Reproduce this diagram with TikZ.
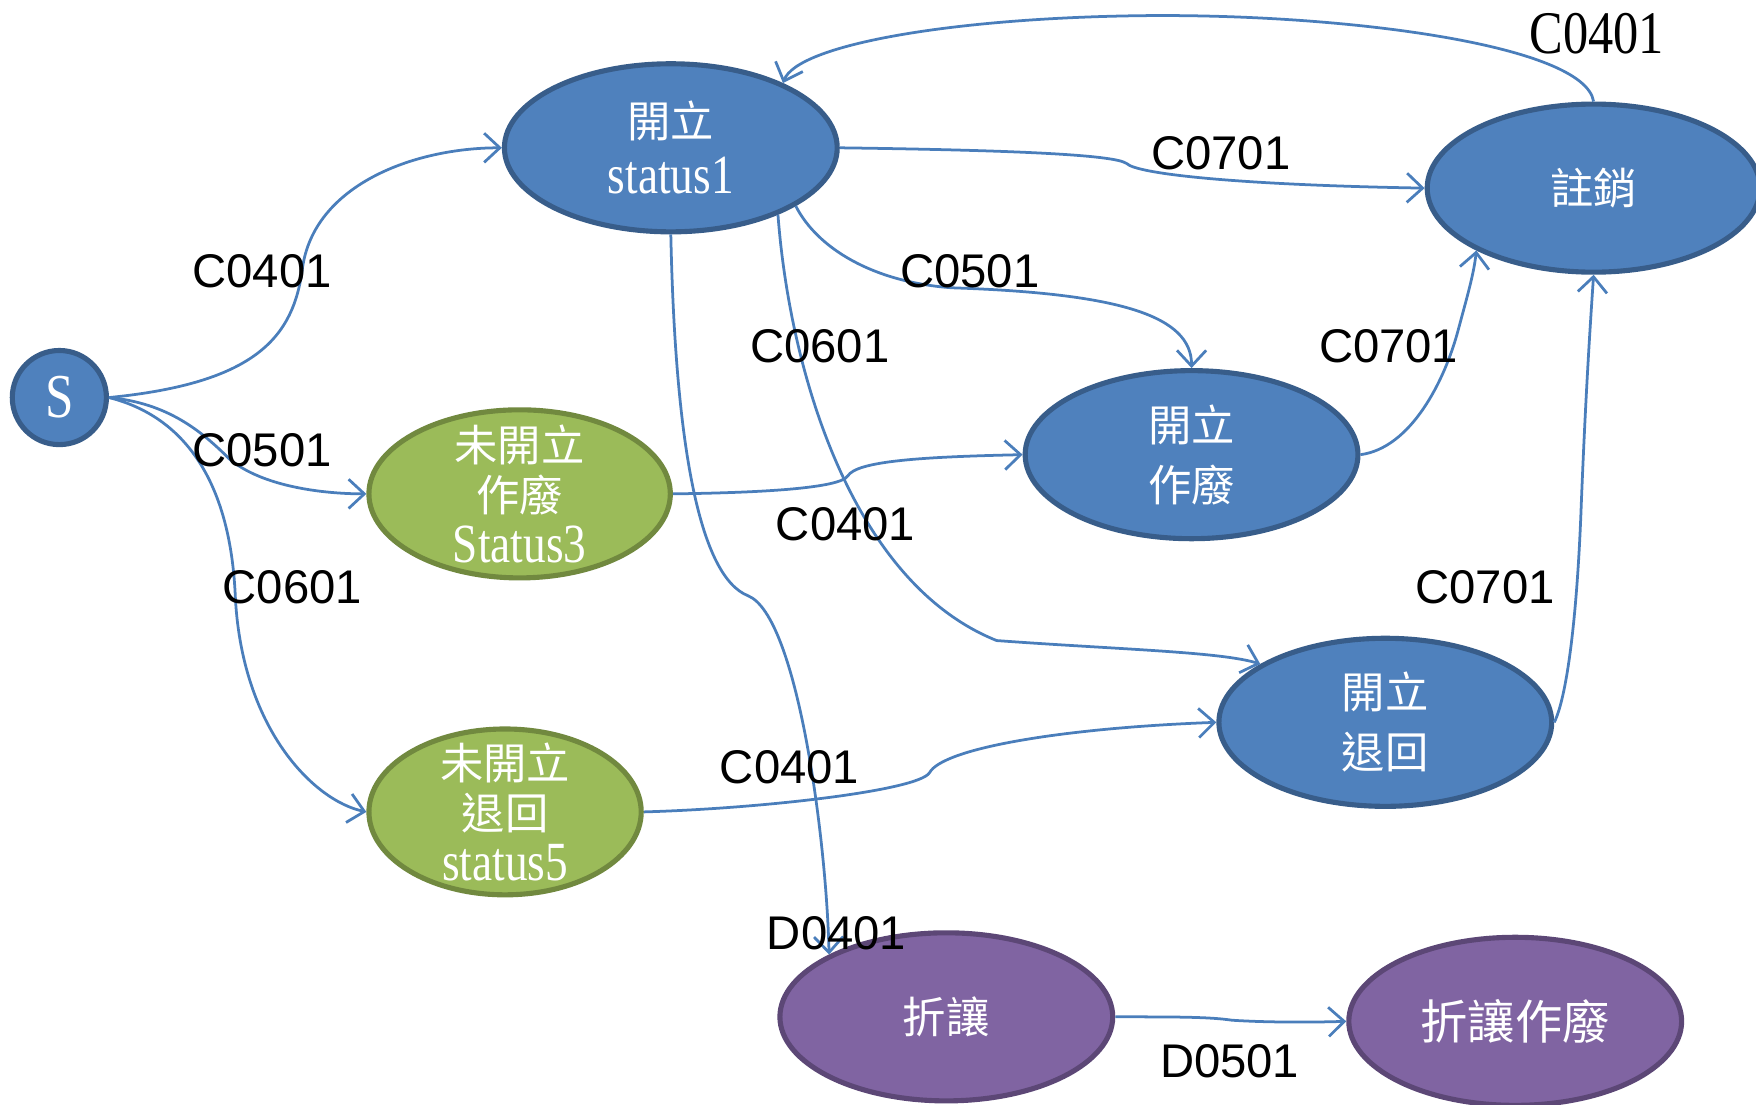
\documentclass[tikz,border=0pt]{standalone}
\usepackage{fontspec}
\usepackage{graphicx}
\setmainfont{Liberation Serif}
\newfontfamily\cjkfont{Noto Sans CJK TC}
\newfontfamily\labfont{Liberation Sans}
\usetikzlibrary{shapes.geometric,arrows.meta}
\definecolor{fblue}{HTML}{4F81BD}
\definecolor{dblue}{HTML}{385D8A}
\definecolor{fgreen}{HTML}{9BBB59}
\definecolor{dgreen}{HTML}{71893F}
\definecolor{fpurple}{HTML}{8064A2}
\definecolor{dpurple}{HTML}{5C4776}
\definecolor{lblue}{HTML}{4A7EBB}
\newcommand\tallx[1]{\scalebox{1}[1.22]{#1}}
\newcommand\cj[1]{{\cjkfont\fontsize{11}{13}\selectfont #1}}
\tikzset{
  st/.style={ellipse, line width=1.3pt, inner sep=0pt, text=white, align=center,
    minimum width=2.97cm, minimum height=1.5cm, font=\fontsize{11.5}{14.2}\selectfont},
  bst/.style={st, fill=fblue, draw=dblue},
  gst/.style={st, fill=fgreen, draw=dgreen, inner sep=-10pt, font=\fontsize{11.5}{12.8}\selectfont},
  pst/.style={st, fill=fpurple, draw=dpurple},
  conn/.style={draw=lblue, line width=0.7pt, -{Straight Barb[length=1.4mm,width=2.6mm]}},
  lab/.style={font=\labfont\fontsize{12}{14}\selectfont, inner sep=0pt}
}
\begin{document}
\begin{tikzpicture}[x=0.01cm,y=-0.01cm]
\useasboundingbox (0,0) rectangle (1568,986);
% nodes
\node[bst, minimum width=0.84cm, minimum height=0.84cm, font=\fontsize{13}{14}\selectfont] (S) at (53,355) {\tallx{S}};
\node[bst] (s1) at (599,132) {\cj{開立}\\\tallx{status1}};
\node[bst] (zx) at (1423,168) {\cj{註銷}};
\node[bst] (zf) at (1064,406) {\cj{開立}\\[1pt]\cj{作廢}};
\node[gst, minimum width=2.69cm] (wf) at (464,441) {\cj{未開立}\\\cj{作廢}\\\tallx{Status3}};
\node[bst] (zt) at (1237,645) {\cj{開立}\\[1pt]\cj{退回}};
\node[gst, minimum width=2.43cm, minimum height=1.48cm] (wt) at (451,725) {\cj{未開立}\\\cj{退回}\\\tallx{status5}};
\node[pst] (zr) at (845,908) {\cj{折讓}};
\node[pst] (zz) at (1353,912) {{\cjkfont\fontsize{12}{13}\selectfont 折讓作廢}};
% connectors
\draw[conn] (S.east) .. controls (230,342) and (262,300) .. (270,240)
  .. controls (280,165) and (370,132) .. (s1.west);
\draw[conn] (S.east) .. controls (150,360) and (180,385) .. (205,410)
  .. controls (235,435) and (290,441) .. (wf.west);
\draw[conn] (S.east) .. controls (165,372) and (205,430) .. (210,530)
  .. controls (215,650) and (280,715) .. (wt.west);
\draw[conn] (s1.east) .. controls (900,134) and (995,138) .. (1006,146)
  .. controls (1015,155) and (1100,165) .. (zx.west);
\draw[conn] (s1.335) .. controls (730,222) and (780,252) .. (850,257)
  .. controls (1000,262) and (1064,282) .. (zf.north);
\draw[conn] (s1.328) .. controls (705,330) and (760,520) .. (890,572)
  .. controls (1000,580) and (1090,582) .. (zt.155);
\draw[conn] (s1.south) .. controls (603,400) and (625,515) .. (668,532)
  .. controls (712,550) and (738,750) .. (zr.152);
\draw[conn] (wf.east) .. controls (680,440) and (750,436) .. (757,425)
  .. controls (765,412) and (820,408) .. (zf.west);
\draw[conn] (wt.east) .. controls (680,722) and (820,706) .. (830,690)
  .. controls (842,668) and (950,650) .. (zt.west);
\draw[conn] (zf.east) .. controls (1260,400) and (1290,340) .. (1302,295)
  .. controls (1310,265) and (1316,245) .. (zx.208);
\draw[conn] (zt.east) .. controls (1398,625) and (1408,560) .. (1412,450)
  .. controls (1416,350) and (1420,290) .. (zx.south);
\draw[conn] (zx.north) .. controls (1415,40) and (1200,12) .. (1020,14)
  .. controls (850,16) and (712,40) .. (s1.30);
\draw[conn] (zr.east) .. controls (1050,908) and (1080,908) .. (1100,911)
  .. controls (1130,913) and (1170,913) .. (zz.west);
% labels
\node[lab] (l1) at (234,242) {C0401};
\node[lab] (l2) at (234,402) {C0501};
\node[lab] (l3) at (261,524) {C0601};
\node[lab] (l4) at (732,309) {C0601};
\node[lab] (l5) at (866,242) {C0501};
\node[lab] (l6) at (1090,137) {C0701};
\node[inner sep=0pt, font=\fontsize{12.8}{14}\selectfont] (l7) at (1426,30) {\scalebox{1}[1.2]{C0401}};
\node[lab] (l8) at (1240,309) {C0701};
\node[lab] (l9) at (755,468) {C0401};
\node[lab] (l10) at (1326,524) {C0701};
\node[lab] (l11) at (705,685) {C0401};
\node[lab] (l12) at (747,833) {D0401};
\node[lab] (l13) at (1098,948) {D0501};
\end{tikzpicture}
\end{document}
